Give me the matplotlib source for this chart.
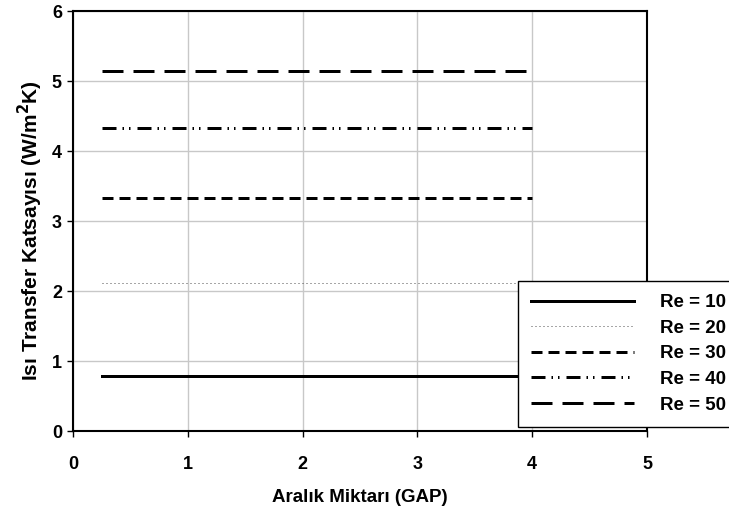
import matplotlib
matplotlib.use("Agg")
import matplotlib.pyplot as plt

plt.rcParams['font.family'] = ['Liberation Sans', 'DejaVu Sans']
plt.rcParams['font.weight'] = 'bold'
plt.rcParams['lines.scale_dashes'] = False

# gap values and heat transfer coefficient for each Reynolds number
gap = [0.25, 0.5, 1, 1.5, 2, 2.5, 3, 3.5, 4]
re10 = [0.79] * len(gap)
re20 = [2.11] * len(gap)
re30 = [3.33] * len(gap)
re40 = [4.33] * len(gap)
re50 = [5.15] * len(gap)

series = [re10, re20, re30, re40, re50]
labels = ["Re = 10", "Re = 20", "Re = 30", "Re = 40", "Re = 50"]

px = 0.72  # pixel -> point at 100 dpi
styles = [
    dict(ls='-', lw=3 * px, color='black'),
    dict(ls=(0, (1 * px, 3 * px)), lw=1 * px, color='#505050'),
    dict(ls=(0, (11 * px, 6 * px)), lw=3 * px, color='black'),
    dict(ls=(0, (14 * px, 6 * px, 1.5 * px, 5 * px, 1.5 * px, 7 * px)), lw=3 * px, color='black'),
    dict(ls=(0, (21 * px, 10 * px)), lw=3 * px, color='black'),
]

fs = 13

fig = plt.figure(figsize=(7.29, 5.14), dpi=100)
ax = fig.add_axes([73 / 729, 1 - 431 / 514, 574 / 729, 420 / 514])

for vals, lab, st in zip(series, labels, styles):
    ax.plot(gap, vals, label=lab, **st)

ax.set_xlim(0, 5)
ax.set_ylim(0, 6)
ax.set_xticks(range(0, 6))
ax.set_yticks(range(0, 7))
ax.grid(True, color='#c8c8c8', lw=1)
ax.set_axisbelow(True)
for s in ax.spines.values():
    s.set_linewidth(1.5)
    s.set_color('black')
ax.tick_params(direction='out', length=4, width=1, labelsize=fs)
ax.tick_params(axis='x', pad=14)
ax.tick_params(axis='y', pad=4)

ax.set_xlabel("Aralık Miktarı (GAP)", fontsize=13.5, fontweight='bold', va='center')
ax.set_ylabel("Isı Transfer Katsayısı (W/m$^\\mathbf{2}$K)", fontsize=15, fontweight='bold', va='center')
ax.xaxis.set_label_coords(0.5, (431 - 497) / 420)
ax.yaxis.set_label_coords((30 - 73) / 574, (431 - 231) / 420)

leg = ax.legend(loc='upper left', bbox_to_anchor=(518 / 729, 1 - 281 / 514),
                bbox_transform=fig.transFigure, fontsize=13.5, frameon=True,
                fancybox=False, framealpha=1, edgecolor='black',
                handlelength=5.5, handletextpad=1.4, labelspacing=0.45,
                borderaxespad=0, borderpad=0.7)
leg.get_frame().set_linewidth(1)

fig.savefig("out.png", dpi=100)
